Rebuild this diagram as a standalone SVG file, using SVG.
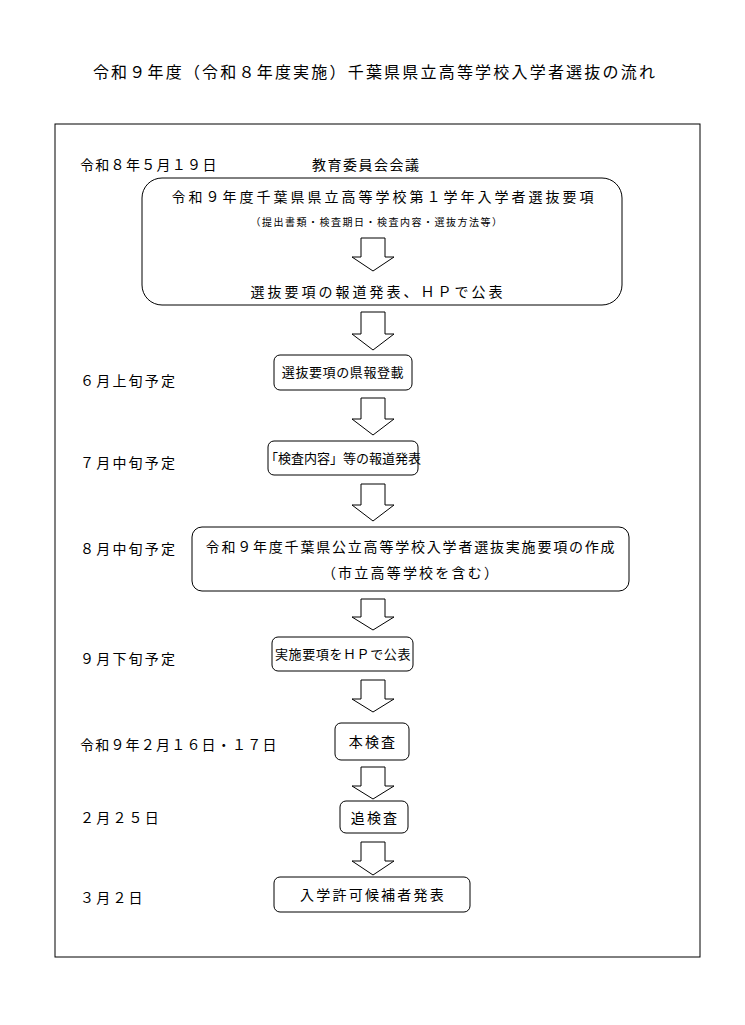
<svg xmlns="http://www.w3.org/2000/svg" width="745" height="1025" viewBox="0 0 745 1025">
<defs>
<style>
text{font-family:"Noto Sans CJK JP","Noto Sans CJK SC",sans-serif;font-size:14px;letter-spacing:2.2px;fill:#000}
.c{text-anchor:middle}
.s{font-size:13px;letter-spacing:0.6px}
.box{fill:#fff;stroke:#000;stroke-width:1}
.arr{fill:#fff;stroke:#000;stroke-width:1}
</style>
</defs>
<rect width="745" height="1025" fill="#fff"/>
<text class="c" x="375" y="78" style="font-size:16px;letter-spacing:2.2px">令和９年度（令和８年度実施）千葉県県立高等学校入学者選抜の流れ</text>
<rect x="55" y="124" width="645" height="833" fill="none" stroke="#000"/>
<g id="labels">
<text x="80" y="170" style="letter-spacing:1.3px">令和８年５月１９日</text>
<text x="312" y="170" style="letter-spacing:1.5px">教育委員会会議</text>
<text x="80" y="386">６月上旬予定</text>
<text x="80" y="468">７月中旬予定</text>
<text x="80" y="554">８月中旬予定</text>
<text x="80" y="664">９月下旬予定</text>
<text x="80" y="750" style="letter-spacing:1.2px">令和９年２月１６日・１７日</text>
<text x="80" y="823">２月２５日</text>
<text x="80" y="903">３月２日</text>
</g>
<g id="n1"><rect class="box" x="142" y="178" width="480" height="127" rx="20"/>
<text class="c" x="384" y="202" style="letter-spacing:3px">令和９年度千葉県県立高等学校第１学年入学者選抜要項</text>
<text class="c" x="377" y="226" style="font-size:10px;letter-spacing:1.5px">（提出書類・検査期日・検査内容・選抜方法等）</text>
<text class="c" x="378" y="297" style="letter-spacing:3px">選抜要項の報道発表、ＨＰで公表</text></g>
<g id="n2"><rect class="box" x="274" y="355" width="138" height="35" rx="6"/><text class="c s" x="343" y="377">選抜要項の県報登載</text></g>
<g id="n3"><rect class="box" x="268" y="441" width="150" height="34" rx="6"/><text class="c s" x="343" y="463" style="letter-spacing:0">「検査内容」等の報道発表</text></g>
<g id="n4"><rect class="box" x="192" y="527" width="437" height="64" rx="10"/><text class="c" x="411" y="552" style="letter-spacing:1.8px">令和９年度千葉県公立高等学校入学者選抜実施要項の作成</text><text class="c" x="411" y="578">（市立高等学校を含む）</text></g>
<g id="n5"><rect class="box" x="272" y="637" width="141" height="34" rx="6"/><text class="c s" x="343" y="659">実施要項をＨＰで公表</text></g>
<g id="n6"><rect class="box" x="335" y="723" width="74" height="37" rx="6"/><text class="c" x="373" y="747">本検査</text></g>
<g id="n7"><rect class="box" x="340" y="801" width="68" height="32" rx="6"/><text class="c" x="375" y="823">追検査</text></g>
<g id="n8"><rect class="box" x="274" y="877" width="196" height="35" rx="6"/><text class="c" x="373" y="900">入学許可候補者発表</text></g>
<g id="connectors">
<path class="arr" d="M361 238 V257 H352 L373 271 L394 257 H385 V238 Z"/>
<path class="arr" d="M361 312 V334 H352 L373 350 L394 334 H385 V312 Z"/>
<path class="arr" d="M361 398 V419 H352 L373 435 L394 419 H385 V398 Z"/>
<path class="arr" d="M361 484 V505 H352 L373 521 L394 505 H385 V484 Z"/>
<path class="arr" d="M361 599 V617 H352 L373 630 L394 617 H385 V599 Z"/>
<path class="arr" d="M361 680 V699 H352 L373 712 L394 699 H385 V680 Z"/>
<path class="arr" d="M361 767 V786 H352 L373 799 L394 786 H385 V767 Z"/>
<path class="arr" d="M361 842 V861 H352 L373 875 L394 861 H385 V842 Z"/>
</g>
</svg>
